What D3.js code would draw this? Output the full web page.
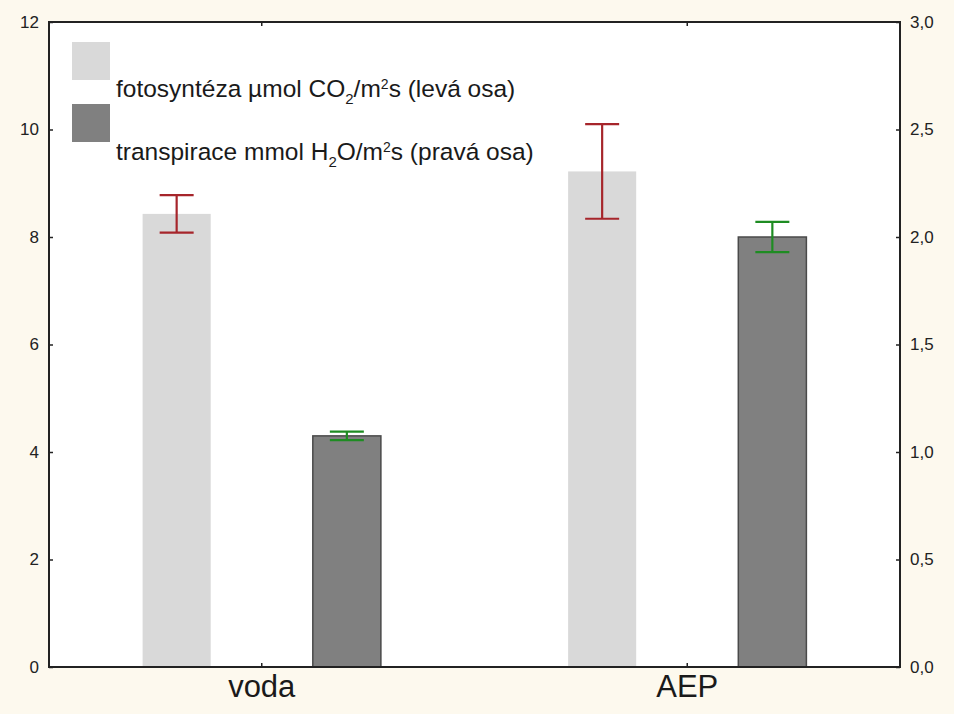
<!DOCTYPE html>
<html>
<head>
<meta charset="utf-8">
<script src="https://cdn.jsdelivr.net/npm/d3@7"></script>
<style>
  body { margin: 0; background: #fdf9ee; }
  svg { display: block; font-family: "Liberation Sans", Arial, sans-serif; }
</style>
</head>
<body>
<svg id="chart" width="954" height="714"></svg>
<script>
// data
const categories = ["voda", "AEP"];
const series = ["foto", "trans"];
const photoMean = [8.43, 9.22];   // left axis, umol CO2/m2s
const photoErr = [0.35, 0.88];
const transMean = [1.075, 2.0];   // right axis, mmol H2O/m2s
const transErr = [0.02, 0.07];
const leftTicks = [0, 2, 4, 6, 8, 10, 12];
const rightTicks = [0, 0.5, 1, 1.5, 2, 2.5, 3];

const width = 954, height = 714;
const plotL = 49, plotR = 900, plotT = 22, plotB = 667;

const svg = d3.select("#chart");

// plot background
svg.append("rect")
  .attr("x", plotL).attr("y", plotT)
  .attr("width", plotR - plotL).attr("height", plotB - plotT)
  .attr("fill", "#fff");

const x0 = d3.scaleBand().domain(categories).range([plotL, plotR]);
const x1 = d3.scalePoint().domain(series).range([0, x0.bandwidth()]).padding(0.75);
const barW = x0.bandwidth() * 0.16;

const yL = d3.scaleLinear().domain([0, 12]).range([plotB, plotT]);
const yR = d3.scaleLinear().domain([0, 3]).range([plotB, plotT]);

const comma = d => d3.format(".1f")(d).replace(".", ",");

// bars - photosynthesis (light)
svg.selectAll(".foto")
  .data(categories)
  .join("rect")
  .attr("class", "foto")
  .attr("x", (d, i) => x0(d) + x1("foto") - barW / 2)
  .attr("y", (d, i) => yL(photoMean[i]))
  .attr("width", barW)
  .attr("height", (d, i) => yL(0) - yL(photoMean[i]))
  .attr("fill", "#d9d9d9");

// bars - transpiration (dark)
svg.selectAll(".trans")
  .data(categories)
  .join("rect")
  .attr("class", "trans")
  .attr("x", (d, i) => x0(d) + x1("trans") - barW / 2)
  .attr("y", (d, i) => yR(transMean[i]))
  .attr("width", barW)
  .attr("height", (d, i) => yR(0) - yR(transMean[i]))
  .attr("fill", "#808080")
  .attr("stroke", "#4a4a4a")
  .attr("stroke-width", 1.5);

// error bars
function errBars(cls, key, y, mean, err, color) {
  const g = svg.selectAll("." + cls)
    .data(categories)
    .join("g")
    .attr("class", cls)
    .attr("stroke", color)
    .attr("stroke-width", 2.2);
  const cx = d => x0(d) + x1(key);
  const capW = 17;
  g.append("line")
    .attr("x1", cx).attr("x2", cx)
    .attr("y1", (d, i) => y(mean[i] + err[i]))
    .attr("y2", (d, i) => y(mean[i] - err[i]));
  g.append("line")
    .attr("x1", d => cx(d) - capW).attr("x2", d => cx(d) + capW)
    .attr("y1", (d, i) => y(mean[i] + err[i]))
    .attr("y2", (d, i) => y(mean[i] + err[i]));
  g.append("line")
    .attr("x1", d => cx(d) - capW).attr("x2", d => cx(d) + capW)
    .attr("y1", (d, i) => y(mean[i] - err[i]))
    .attr("y2", (d, i) => y(mean[i] - err[i]));
}
errBars("errFoto", "foto", yL, photoMean, photoErr, "#a6252b");
errBars("errTrans", "trans", yR, transMean, transErr, "#1e8c22");

// axes (ticks point inward)
const axL = svg.append("g").attr("transform", `translate(${plotL},0)`)
  .call(d3.axisRight(yL).tickValues(leftTicks).tickSize(4).tickFormat(""));
const axR = svg.append("g").attr("transform", `translate(${plotR},0)`)
  .call(d3.axisLeft(yR).tickValues(rightTicks).tickSize(4).tickFormat(""));
const axB = svg.append("g").attr("transform", `translate(0,${plotB})`)
  .call(d3.axisTop(x0).tickSize(4).tickFormat(""));
const axT = svg.append("g").attr("transform", `translate(0,${plotT})`)
  .call(d3.axisBottom(x0).tickSize(4).tickFormat(""));
[axL, axR, axB, axT].forEach(a => {
  a.select(".domain").remove();
  a.selectAll(".tick line").attr("stroke", "#222").attr("stroke-width", 1.5);
});

// frame
svg.append("rect")
  .attr("x", plotL).attr("y", plotT)
  .attr("width", plotR - plotL).attr("height", plotB - plotT)
  .attr("fill", "none")
  .attr("stroke", "#222")
  .attr("stroke-width", 2);

// tick labels
svg.selectAll(".lLab")
  .data(leftTicks)
  .join("text")
  .attr("class", "lLab")
  .attr("x", 39)
  .attr("y", d => yL(d))
  .attr("dy", "0.35em")
  .attr("text-anchor", "end")
  .attr("font-size", 17)
  .attr("fill", "#222")
  .text(d => d);

svg.selectAll(".rLab")
  .data(rightTicks)
  .join("text")
  .attr("class", "rLab")
  .attr("x", 910)
  .attr("y", d => yR(d))
  .attr("dy", "0.35em")
  .attr("font-size", 17)
  .attr("fill", "#222")
  .text(d => comma(d));

svg.selectAll(".cLab")
  .data(categories)
  .join("text")
  .attr("class", "cLab")
  .attr("x", d => x0(d) + x0.bandwidth() / 2)
  .attr("y", 697)
  .attr("text-anchor", "middle")
  .attr("font-size", 31)
  .attr("fill", "#1a1a1a")
  .text(d => d);

// legend
const legend = svg.append("g");
legend.append("rect").attr("x", 72).attr("y", 42).attr("width", 38).attr("height", 38).attr("fill", "#d9d9d9");
legend.append("rect").attr("x", 72).attr("y", 104).attr("width", 38).attr("height", 38).attr("fill", "#808080");

const t1 = legend.append("text").attr("x", 116).attr("y", 97).attr("font-size", 24.5)
  .attr("fill", "#1a1a1a");
t1.append("tspan").text("fotosyntéza µmol CO");
t1.append("tspan").attr("font-size", 15).attr("dy", 7).text("2");
t1.append("tspan").attr("dy", -7).text("/m");
t1.append("tspan").attr("font-size", 14).attr("dy", -8).text("2");
t1.append("tspan").attr("dy", 8).text("s (levá osa)");

const t2 = legend.append("text").attr("x", 116).attr("y", 160).attr("font-size", 24.5)
  .attr("fill", "#1a1a1a");
t2.append("tspan").text("transpirace mmol H");
t2.append("tspan").attr("font-size", 15).attr("dy", 7).text("2");
t2.append("tspan").attr("dy", -7).text("O/m");
t2.append("tspan").attr("font-size", 14).attr("dy", -8).text("2");
t2.append("tspan").attr("dy", 8).text("s (pravá osa)");
</script>
</body>
</html>
